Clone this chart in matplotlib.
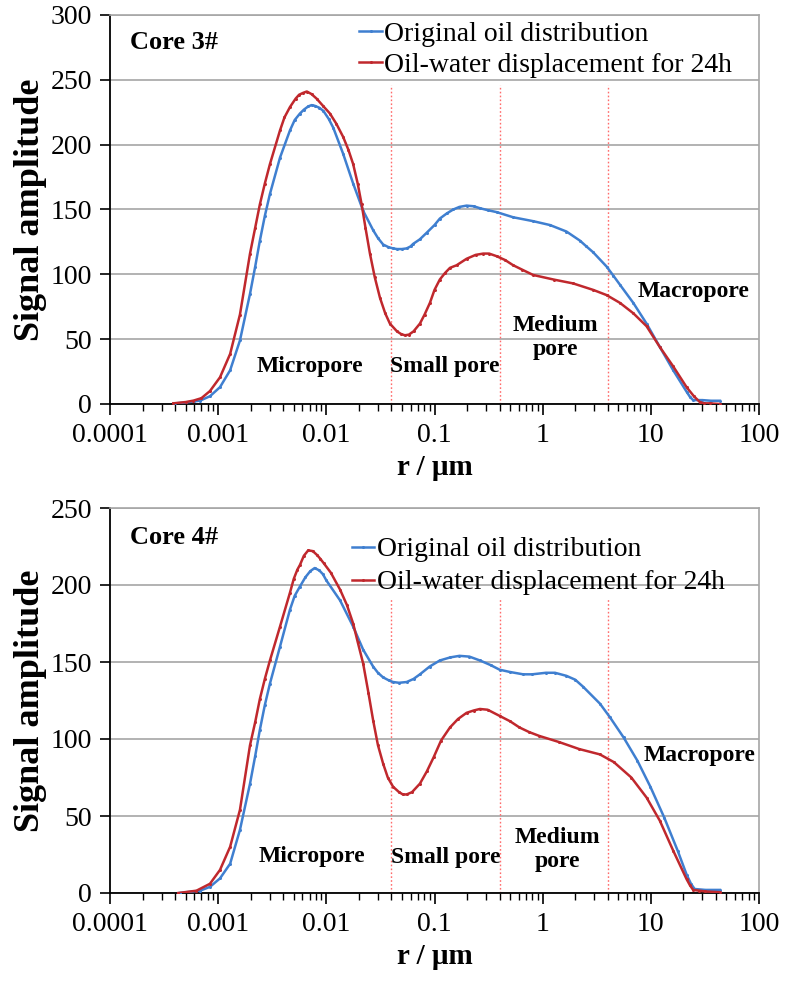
import numpy as np
import matplotlib
matplotlib.use("Agg")
import matplotlib.pyplot as plt
from matplotlib.ticker import LogLocator, FixedLocator, FuncFormatter, NullFormatter, MultipleLocator

plt.rcParams['font.family'] = ['Liberation Serif', 'DejaVu Serif']

# ---- Core 3# ----
r3_orig = [0.0004, 0.0005, 0.0006, 0.00068, 0.00084, 0.00104, 0.00129, 0.00159, 0.00197, 0.0022,
           0.00243, 0.0027, 0.00301, 0.00373, 0.00461, 0.0051, 0.0057, 0.0062, 0.0068, 0.0073,
           0.0078, 0.0086, 0.0094, 0.0105, 0.0116, 0.0143, 0.0177, 0.0219, 0.0271, 0.030,
           0.0335, 0.0375, 0.0414, 0.045, 0.050, 0.0553, 0.060, 0.0635, 0.0732, 0.0845,
           0.1, 0.112, 0.13, 0.149, 0.17, 0.198, 0.23, 0.263, 0.31, 0.375,
           0.534, 0.817, 1.17, 1.66, 2.21, 2.5, 2.93, 3.9, 4.5, 5.18,
           6.88, 9.13, 12.1, 16.1, 21.4, 23, 24.6, 30, 36, 43.5]
amp3_orig = [0.5, 1.2, 2, 2.6, 6, 13, 26, 49, 85, 106,
             126, 145, 162, 190, 211, 219, 224, 227, 229.5, 230.5,
             230, 228.5, 226, 220, 213, 193, 170, 149, 134, 128,
             123, 121, 120, 119.5, 119.5, 120, 121.5, 123.5, 127, 132,
             138, 143, 147, 150, 152, 153, 152.5, 151, 149.5, 148,
             144, 141, 138, 133, 126, 122, 117, 106, 99, 92,
             78, 62, 44, 26, 9.5, 5.5, 3, 3, 2.5, 2.5]

r3_disp = [0.000385, 0.0005, 0.00059, 0.0007, 0.00084, 0.00104, 0.00129, 0.00159, 0.00197, 0.0022,
           0.00243, 0.0027, 0.00301, 0.00373, 0.0041, 0.00461, 0.0052, 0.0056, 0.00612, 0.0066,
           0.0073, 0.00813, 0.0093, 0.0108, 0.0124, 0.0143, 0.016, 0.0177, 0.0195, 0.0212,
           0.023, 0.0253, 0.028, 0.0313, 0.035, 0.0387, 0.045, 0.049, 0.0532, 0.058,
           0.064, 0.0733, 0.081, 0.0907, 0.1, 0.112, 0.125, 0.139, 0.16, 0.198,
           0.24, 0.282, 0.32, 0.375, 0.45, 0.534, 0.65, 0.817, 1.26, 1.91,
           2.93, 3.9, 5.18, 6.88, 9.13, 12.1, 16.1, 21.4, 25, 28.4,
           31, 35, 43.5]
amp3_disp = [0.5, 1.5, 2.6, 4.5, 10, 20.6, 38.6, 69, 116, 136,
             154, 170, 185, 211, 221, 229, 235.5, 238.5, 240, 241,
             239, 235.5, 230, 224, 216, 206, 196, 185, 170, 154,
             136, 116, 98, 82, 70, 62, 56, 54, 53, 53.5,
             56, 62, 69, 78, 88, 96, 101, 105, 107, 112,
             115, 116, 116, 114, 111, 107, 103.5, 99.5, 96, 93,
             88, 84, 78, 70, 60, 44, 29, 13, 6, 1.5,
             0.5, 0.5, 0]

# ---- Core 4# ----
r4_orig = [0.00044, 0.00068, 0.00084, 0.00104, 0.00129, 0.00159, 0.00197, 0.0022, 0.00243, 0.0027,
           0.00301, 0.00373, 0.00461, 0.0051, 0.0057, 0.0064, 0.0071, 0.0078, 0.0086, 0.0093,
           0.01, 0.0134, 0.0177, 0.0219, 0.0271, 0.030, 0.0335, 0.038, 0.0414, 0.047,
           0.0553, 0.064, 0.0733, 0.09, 0.112, 0.14, 0.17, 0.21, 0.263, 0.33,
           0.4, 0.5, 0.66, 0.8, 1.07, 1.3, 1.66, 2.0, 2.36, 3.38,
           4.2, 5.6, 7.5, 9.9, 13.3, 17.7, 21.4, 23.5, 25.4, 32,
           43.5]
amp4_orig = [0, 1.5, 4, 9.5, 19, 41, 71, 89, 106, 122,
             136, 160, 184, 193, 199, 205, 209, 211, 209.5, 207,
             203, 190, 173, 158, 147, 143, 140, 138, 137, 136.5,
             137, 139, 142, 147, 151, 153, 154, 153.5, 151, 148,
             145, 143.5, 142, 142, 143, 143, 141, 138.5, 134, 123,
             114, 101, 86, 69, 49, 27.5, 12, 6, 2.6, 2,
             2]

r4_disp = [0.000428, 0.00063, 0.00084, 0.00104, 0.00129, 0.00159, 0.00197, 0.0022, 0.00243, 0.0027,
           0.00301, 0.00373, 0.00461, 0.0050, 0.0054, 0.0057, 0.0062, 0.0068, 0.0075, 0.0082,
           0.0088, 0.0095, 0.011, 0.0134, 0.0155, 0.0177, 0.0195, 0.0219, 0.0245, 0.0271,
           0.030, 0.0335, 0.037, 0.0414, 0.047, 0.051, 0.0553, 0.062, 0.0733, 0.085,
           0.098, 0.115, 0.139, 0.165, 0.198, 0.23, 0.263, 0.31, 0.4, 0.5,
           0.61, 0.75, 0.93, 1.42, 2.17, 3.38, 4.55, 6.6, 9.13, 12.1,
           16.1, 21.4, 23, 24.6, 28, 32, 43.5]
amp4_disp = [0, 1.5, 6, 15, 30, 54, 96, 111, 126, 139,
             151, 173, 195, 204, 210, 213, 219, 222.5, 222, 219.5,
             217, 214, 208, 197, 187, 175, 163, 149, 130, 112,
             96, 84, 75, 69, 65.5, 64, 64, 65.5, 71, 79,
             88, 99, 107.5, 113, 117, 118.5, 119.5, 119, 115, 111.5,
             107.5, 104.5, 102, 98, 93.5, 90, 85, 75, 62, 47,
             27.5, 9, 5, 2, 1.5, 1, 0.5]

pore_bounds = [0.04, 0.4, 4]
x_ticks = [0.0001, 0.001, 0.01, 0.1, 1, 10, 100]

blue = '#3F7FD0'
red = '#C0282D'
grid_c = '#A6A6A6'

W, H = 786, 985
fig = plt.figure(figsize=(W / 100, H / 100), dpi=100)


def px_axes(left, top, right, bottom):
    return fig.add_axes([left / W, 1 - bottom / H, (right - left) / W, (bottom - top) / H])


def style_axes(ax, ymax):
    ax.set_xscale('log')
    ax.set_xlim(1e-4, 100)
    ax.set_ylim(0, ymax)
    ax.yaxis.set_major_locator(MultipleLocator(50))
    ax.xaxis.set_major_locator(FixedLocator(x_ticks))
    ax.xaxis.set_minor_locator(LogLocator(base=10, subs=np.arange(2, 10), numticks=20))
    ax.xaxis.set_major_formatter(FuncFormatter(lambda v, p: f'{v:g}'))
    ax.xaxis.set_minor_formatter(NullFormatter())
    ax.grid(axis='y', color=grid_c, lw=1.2, zorder=0)
    ax.set_axisbelow(True)
    for s in ['left', 'bottom']:
        ax.spines[s].set_color('black')
        ax.spines[s].set_linewidth(1.3)
    for s in ['top', 'right']:
        ax.spines[s].set_color(grid_c)
        ax.spines[s].set_linewidth(1.2)
    ax.tick_params(axis='x', which='major', direction='out', length=8, width=1.2, labelsize=20, pad=6,
                   top=False)
    ax.tick_params(axis='x', which='minor', direction='out', length=5, width=1.0, top=False)
    ax.tick_params(axis='y', which='major', direction='out', length=7, width=1.2, labelsize=20, pad=6,
                   right=False)
    ax.set_xlabel('r / μm', fontsize=21, fontweight='bold', labelpad=4)
    ax.set_ylabel('Signal amplitude', fontsize=26, fontweight='bold', va='center')
    ax.yaxis.set_label_coords(-0.122, 0.5)


def draw(ax, r_o, a_o, r_d, a_d, vtop, leg_anchor, leg_space):
    ax.vlines(pore_bounds, 0, vtop, colors='#FF6B6B', linestyles=(0, (1.2, 1.6)), lw=1.0, zorder=1)
    ax.plot(r_o, a_o, color=blue, lw=1.8, marker='o', ms=2.2, mew=0,
            label='Original oil distribution', zorder=3)
    ax.plot(r_d, a_d, color=red, lw=1.8, marker='o', ms=2.2, mew=0,
            label='Oil-water displacement for 24h', zorder=3)
    ax.legend(loc='upper left', bbox_to_anchor=leg_anchor, frameon=False, fontsize=20,
              handlelength=0.8, handletextpad=0.1, labelspacing=leg_space, borderaxespad=0,
              borderpad=0.1)


lab = dict(fontsize=17, fontweight='bold', ha='center', va='center')

# top panel
ax1 = px_axes(110, 15, 759, 404)
style_axes(ax1, 300)
draw(ax1, r3_orig, amp3_orig, r3_disp, amp3_disp, 246, (0.38, 0.99), 0.2)
ax1.text(0.000153, 279, 'Core 3#', fontsize=19, fontweight='bold', ha='left', va='center')
ax1.text(0.0071, 29, 'Micropore', **lab)
ax1.text(0.125, 29, 'Small pore', **lab)
ax1.text(1.3, 51, 'Medium\npore', linespacing=1.2, **lab)
ax1.text(24.6, 87, 'Macropore', **lab)

# bottom panel
ax2 = px_axes(110, 508, 759, 893)
style_axes(ax2, 250)
draw(ax2, r4_orig, amp4_orig, r4_disp, amp4_disp, 191, (0.369, 0.932), 0.27)
ax2.text(0.000153, 231, 'Core 4#', fontsize=19, fontweight='bold', ha='left', va='center')
ax2.text(0.0074, 24, 'Micropore', **lab)
ax2.text(0.126, 23, 'Small pore', **lab)
ax2.text(1.37, 28, 'Medium\npore', linespacing=1.2, **lab)
ax2.text(28.4, 89, 'Macropore', **lab)

fig.savefig('out.png', dpi=100)
